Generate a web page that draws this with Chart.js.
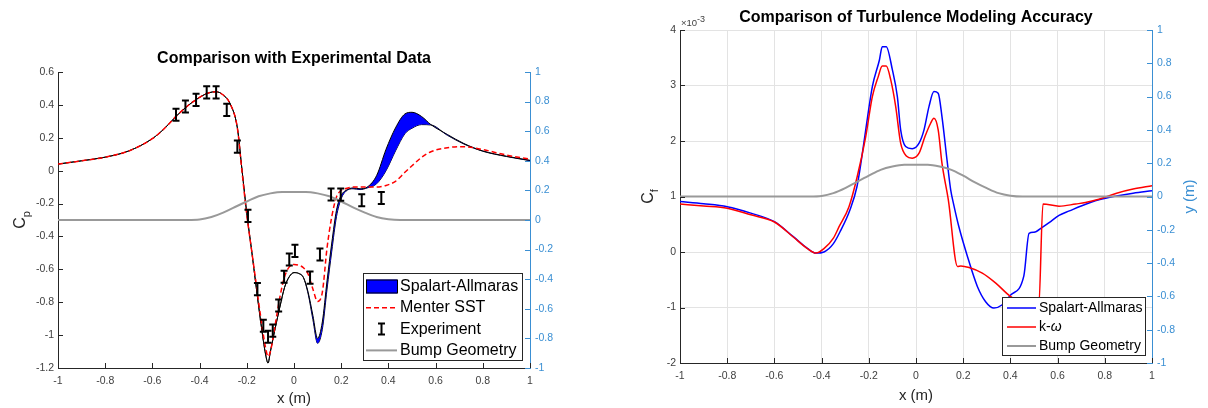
<!DOCTYPE html>
<html>
<head>
<meta charset="utf-8">
<script src="https://cdn.jsdelivr.net/npm/chart.js@4.4.1/dist/chart.umd.min.js"></script>
<style>
  html, body { margin: 0; padding: 0; background: #fff; }
  #cpChart { position: absolute; left: 0; top: 0; }
  #cfChart { position: absolute; left: 600px; top: 0; }
</style>
</head>
<body>
<canvas id="cpChart" width="590" height="408"></canvas>
<canvas id="cfChart" width="608" height="408"></canvas>
<script>
// ---- pressure coefficient (left plot) ----
const cpX = [-1, -0.9, -0.8, -0.7, -0.6, -0.55, -0.5, -0.45, -0.4, -0.36, -0.33, -0.3, -0.27, -0.24,
  -0.22, -0.2, -0.18, -0.16, -0.14, -0.12, -0.11, -0.1, -0.08, -0.06, -0.04, -0.02, 0, 0.02, 0.04,
  0.06, 0.08, 0.1, 0.12, 0.14, 0.16, 0.18, 0.2, 0.22, 0.25, 0.28, 0.31, 0.35, 0.39, 0.43, 0.47,
  0.5, 0.54, 0.58, 0.65, 0.72, 0.8, 0.9, 1];
const cpSAUpper = [0.04, 0.06, 0.082, 0.12, 0.195, 0.255, 0.33, 0.395, 0.446, 0.474, 0.48, 0.46, 0.405, 0.26,
  0.0, -0.26, -0.48, -0.71, -0.93, -1.12, -1.17, -1.10, -0.96, -0.83, -0.71, -0.645, -0.62, -0.625, -0.65,
  -0.74, -0.88, -1.02, -0.92, -0.67, -0.44, -0.24, -0.15, -0.12, -0.105, -0.11, -0.10, -0.03, 0.13, 0.26, 0.345,
  0.355, 0.33, 0.28, 0.22, 0.165, 0.12, 0.088, 0.063];
const cpSALower = [0.04, 0.06, 0.082, 0.12, 0.195, 0.255, 0.33, 0.395, 0.446, 0.474, 0.48, 0.46, 0.405, 0.26,
  0.0, -0.26, -0.48, -0.71, -0.93, -1.12, -1.17, -1.10, -0.96, -0.83, -0.71, -0.645, -0.62, -0.625, -0.65,
  -0.75, -0.905, -1.05, -0.965, -0.72, -0.49, -0.28, -0.17, -0.125, -0.11, -0.115, -0.105, -0.08, 0.0, 0.12, 0.225,
  0.258, 0.28, 0.278, 0.215, 0.162, 0.118, 0.086, 0.061];
const cpSST = [0.04, 0.06, 0.082, 0.12, 0.195, 0.255, 0.33, 0.395, 0.446, 0.474, 0.48, 0.46, 0.405, 0.26,
  -0.01, -0.27, -0.48, -0.69, -0.90, -1.08, -1.13, -1.10, -0.94, -0.77, -0.645, -0.585, -0.57, -0.575, -0.59,
  -0.63, -0.72, -0.795, -0.74, -0.47, -0.28, -0.16, -0.12, -0.108, -0.10, -0.10, -0.10, -0.10, -0.09, -0.065, -0.01,
  0.03, 0.08, 0.115, 0.14, 0.146, 0.128, 0.095, 0.07];

const expX = [-0.50, -0.46, -0.415, -0.37, -0.33, -0.285, -0.24, -0.195, -0.155, -0.13, -0.11,
  -0.09, -0.065, -0.042, -0.02, 0.004, 0.068, 0.11, 0.157, 0.198, 0.287, 0.37];
const expCp = [0.34, 0.39, 0.43, 0.476, 0.476, 0.37, 0.146, -0.275, -0.72, -0.943, -1.01,
  -0.973, -0.82, -0.645, -0.54, -0.488, -0.65, -0.51, -0.145, -0.146, -0.18, -0.166];
const expErr = [0.037, 0.037, 0.037, 0.037, 0.037, 0.037, 0.037, 0.037, 0.037, 0.037, 0.037,
  0.037, 0.037, 0.037, 0.037, 0.037, 0.037, 0.037, 0.037, 0.037, 0.037, 0.037];

// bump shape, y (m) on the right axis of both plots
const bumpX = [-1, -0.45, -0.4, -0.35, -0.3, -0.25, -0.2, -0.15, -0.1, -0.05, 0, 0.05, 0.1,
  0.15, 0.2, 0.25, 0.3, 0.35, 0.4, 0.45, 1];
const bumpY = [0, 0, 0.003, 0.02, 0.05, 0.088, 0.125, 0.16, 0.18, 0.19, 0.19, 0.19, 0.18,
  0.16, 0.125, 0.085, 0.05, 0.02, 0.005, 0, 0];

// ---- skin friction, in units of 1e-3 (right plot) ----
const cfSAX = [-1, -0.9, -0.8, -0.7, -0.6, -0.52, -0.46, -0.424, -0.39, -0.35, -0.32, -0.28, -0.25,
  -0.23, -0.213, -0.185, -0.155, -0.143, -0.126, -0.10, -0.079, -0.065, -0.044, -0.016, 0.013, 0.034,
  0.055, 0.076, 0.094, 0.11, 0.133, 0.147, 0.16, 0.182, 0.218, 0.26, 0.295, 0.33, 0.364, 0.40, 0.457,
  0.479, 0.50, 0.535, 0.564, 0.606, 0.65, 0.70, 0.775, 0.85, 0.92, 1.0];
const cfSA = [0.91, 0.87, 0.816, 0.70, 0.546, 0.276, 0.066, -0.02, 0.0, 0.15, 0.38, 0.757, 1.18,
  1.70, 2.20, 2.98, 3.46, 3.70, 3.70, 3.28, 2.80, 2.20, 1.90, 1.86, 1.96, 2.20,
  2.62, 2.89, 2.86, 2.44, 1.60, 1.12, 0.85, 0.45, -0.08, -0.62, -0.895, -1.01, -0.955, -0.78, -0.43,
  0.336, 0.355, 0.445, 0.53, 0.66, 0.74, 0.83, 0.94, 1.01, 1.06, 1.105];
const cfKwX = [-1, -0.9, -0.8, -0.7, -0.6, -0.52, -0.46, -0.424, -0.39, -0.35, -0.326, -0.284, -0.249,
  -0.213, -0.185, -0.160, -0.143, -0.126, -0.107, -0.086, -0.065, -0.041, -0.016, 0.013, 0.038, 0.062,
  0.076, 0.094, 0.11, 0.137, 0.176, 0.19, 0.225, 0.281, 0.338, 0.40, 0.46, 0.52, 0.538, 0.606, 0.677,
  0.718, 0.775, 0.85, 0.92, 1.0];
const cfKw = [0.865, 0.83, 0.79, 0.67, 0.54, 0.27, 0.06, -0.02, 0.06, 0.25, 0.456, 0.816, 1.36,
  2.08, 2.80, 3.16, 3.35, 3.35, 3.10, 2.62, 1.96, 1.73, 1.69, 1.78, 2.08, 2.32,
  2.41, 2.20, 1.60, 0.94, -0.26, -0.25, -0.28, -0.38, -0.56, -0.80, -0.92, -1.0, 0.865, 0.825, 0.865,
  0.89, 0.95, 1.06, 1.135, 1.195];

const FONT = '"Liberation Sans", Arial, Helvetica, sans-serif';
const AXIS_GRAY = '#262626';
const TICK_GRAY = '#404040';
const RIGHT_BLUE = '#3a8fd3';

Chart.defaults.font.family = FONT;
Chart.defaults.animation = false;

const pts = (xs, ys) => xs.map((x, i) => ({ x, y: ys[i] }));
// MATLAB prints 1 and 0 rather than 1.0 and 0.0
const plainTick = v => String(Number(v.toFixed(3)));

// MATLAB style tick marks pointing into the plot box
const insideTicks = {
  id: 'insideTicks',
  afterDatasetsDraw(chart) {
    const { ctx, chartArea: a } = chart;
    ctx.save();
    ctx.lineWidth = 1;
    Object.values(chart.scales).forEach(s => {
      ctx.strokeStyle = s.options.border.color;
      s.ticks.forEach(t => {
        const p = Math.round(s.getPixelForValue(t.value)) + 0.5;
        ctx.beginPath();
        if (s.axis === 'x') { ctx.moveTo(p, a.bottom); ctx.lineTo(p, a.bottom - 5); }
        else if (s.position === 'left') { ctx.moveTo(a.left, p); ctx.lineTo(a.left + 5, p); }
        else { ctx.moveTo(a.right, p); ctx.lineTo(a.right - 5, p); }
        ctx.stroke();
      });
    });
    ctx.restore();
  }
};

// rotated axis label with optional subscript, x is the baseline
function drawYLabel(ctx, x, yc, main, sub, size, color) {
  ctx.save();
  ctx.translate(x, yc);
  ctx.rotate(-Math.PI / 2);
  ctx.fillStyle = color;
  ctx.textAlign = 'left';
  ctx.textBaseline = 'alphabetic';
  const subSize = Math.round(size * 0.7);
  ctx.font = size + 'px ' + FONT;
  const w1 = ctx.measureText(main).width;
  ctx.font = subSize + 'px ' + FONT;
  const w2 = sub ? ctx.measureText(sub).width : 0;
  const start = -(w1 + w2) / 2;
  ctx.font = size + 'px ' + FONT;
  ctx.fillText(main, start, 0);
  if (sub) {
    ctx.font = subSize + 'px ' + FONT;
    ctx.fillText(sub, start + w1, 5);
  }
  ctx.restore();
}

function drawErrorBar(ctx, px, top, bot, half) {
  ctx.beginPath();
  ctx.moveTo(px, top); ctx.lineTo(px, bot);
  ctx.moveTo(px - half, top); ctx.lineTo(px + half, top);
  ctx.moveTo(px - half, bot); ctx.lineTo(px + half, bot);
  ctx.stroke();
}

function drawLegend(chart, cfg) {
  const { ctx, chartArea: a } = chart;
  const x0 = Math.round(a.right - cfg.insetX - cfg.width);
  const y0 = Math.round(a.bottom - cfg.insetY - cfg.height);
  ctx.save();
  ctx.fillStyle = '#fff';
  ctx.fillRect(x0, y0, cfg.width, cfg.height);
  ctx.strokeStyle = AXIS_GRAY;
  ctx.lineWidth = 1;
  ctx.strokeRect(x0 + 0.5, y0 + 0.5, cfg.width, cfg.height);
  cfg.rows.forEach((r, i) => {
    const cy = y0 + cfg.firstRow + i * cfg.rowGap;
    const sx = x0 + cfg.sampleLeft, ex = x0 + cfg.sampleRight;
    ctx.setLineDash([]);
    if (r.kind === 'band') {
      ctx.fillStyle = r.color;
      ctx.fillRect(sx, cy - 7, ex - sx, 14);
      ctx.strokeStyle = '#000';
      ctx.strokeRect(sx + 0.5, cy - 6.5, ex - sx, 13);
    } else if (r.kind === 'errorbar') {
      ctx.strokeStyle = '#000';
      ctx.lineWidth = 2;
      drawErrorBar(ctx, (sx + ex) / 2, cy - 5.5, cy + 5.5, 3.5);
      ctx.lineWidth = 1;
    } else {
      ctx.strokeStyle = r.color;
      ctx.lineWidth = r.width;
      if (r.dash) ctx.setLineDash(r.dash);
      ctx.beginPath();
      ctx.moveTo(sx, cy); ctx.lineTo(ex, cy);
      ctx.stroke();
      ctx.setLineDash([]);
      ctx.lineWidth = 1;
    }
    ctx.fillStyle = '#000';
    ctx.textBaseline = 'middle';
    ctx.textAlign = 'left';
    ctx.font = cfg.fontSize + 'px ' + FONT;
    ctx.fillText(r.text, x0 + cfg.textLeft, cy);
    if (r.italic) {
      const w = ctx.measureText(r.text).width;
      ctx.font = 'italic ' + cfg.fontSize + 'px ' + FONT;
      ctx.fillText(r.italic, x0 + cfg.textLeft + w, cy);
    }
  });
  ctx.restore();
}

const cpExtras = {
  id: 'cpExtras',
  afterDatasetsDraw(chart) {
    const { ctx } = chart;
    const xs = chart.scales.x, ys = chart.scales.y;
    ctx.save();
    ctx.strokeStyle = '#000';
    ctx.lineWidth = 2;
    expX.forEach((xv, i) => {
      drawErrorBar(ctx, xs.getPixelForValue(xv),
        ys.getPixelForValue(expCp[i] + expErr[i]),
        ys.getPixelForValue(expCp[i] - expErr[i]), 3.5);
    });
    ctx.restore();
  },
  afterDraw(chart) {
    const a = chart.chartArea;
    drawYLabel(chart.ctx, 25, (a.top + a.bottom) / 2, 'C', 'p', 16, AXIS_GRAY);
    drawLegend(chart, {
      width: 159, height: 87, insetX: 8, insetY: 8, firstRow: 13.5, rowGap: 21.3,
      sampleLeft: 3, sampleRight: 34, textLeft: 37, fontSize: 16,
      rows: [
        { kind: 'band', color: '#0000ff', text: 'Spalart-Allmaras' },
        { kind: 'line', color: '#ff0000', width: 1.5, dash: [5, 3], text: 'Menter SST' },
        { kind: 'errorbar', text: 'Experiment' },
        { kind: 'line', color: '#999999', width: 2, text: 'Bump Geometry' }
      ]
    });
  }
};

const cfExtras = {
  id: 'cfExtras',
  afterDraw(chart) {
    const { ctx, chartArea: a } = chart;
    const yc = (a.top + a.bottom) / 2;
    drawYLabel(ctx, 53, yc, 'C', 'f', 16, AXIS_GRAY);
    drawYLabel(ctx, 594, yc, 'y (m)', '', 15, RIGHT_BLUE);
    // exponent above the left axis
    ctx.save();
    ctx.fillStyle = TICK_GRAY;
    ctx.textBaseline = 'alphabetic';
    ctx.font = '9.5px ' + FONT;
    ctx.fillText('\u00d710', a.left + 1, a.top - 4);
    const w = ctx.measureText('\u00d710').width;
    ctx.font = '9px ' + FONT;
    ctx.fillText('-3', a.left + 1 + w, a.top - 8);
    ctx.restore();
    drawLegend(chart, {
      width: 143, height: 58, insetX: 7, insetY: 8, firstRow: 11, rowGap: 19,
      sampleLeft: 5, sampleRight: 34, textLeft: 37, fontSize: 14,
      rows: [
        { kind: 'line', color: '#0000ff', width: 1.5, text: 'Spalart-Allmaras' },
        { kind: 'line', color: '#ff0000', width: 1.5, text: 'k-', italic: '\u03c9' },
        { kind: 'line', color: '#999999', width: 2, text: 'Bump Geometry' }
      ]
    });
  }
};

const tickFont = { size: 10.5 };

new Chart(document.getElementById('cpChart'), {
  type: 'line',
  data: {
    datasets: [
      { label: 'Spalart-Allmaras', data: pts(cpX, cpSAUpper), borderColor: '#000', borderWidth: 1,
        backgroundColor: '#0000ff', fill: '+1', order: 3, yAxisID: 'y', cubicInterpolationMode: 'monotone' },
      { label: 'SA lower', data: pts(cpX, cpSALower), borderColor: '#000', borderWidth: 1,
        fill: false, order: 3, yAxisID: 'y', cubicInterpolationMode: 'monotone' },
      { label: 'Menter SST', data: pts(cpX, cpSST), borderColor: '#ff0000', borderWidth: 1.5,
        borderDash: [5, 3], fill: false, order: 2, yAxisID: 'y', cubicInterpolationMode: 'monotone' },
      { label: 'Experiment', data: pts(expX, expCp), showLine: false, pointRadius: 0, order: 0, yAxisID: 'y' },
      { label: 'Bump Geometry', data: pts(bumpX, bumpY), borderColor: '#999999', borderWidth: 2,
        fill: false, order: 1, yAxisID: 'y1', cubicInterpolationMode: 'monotone' }
    ]
  },
  options: {
    responsive: false,
    devicePixelRatio: 1,
    layout: { padding: 0 },
    elements: { point: { radius: 0 } },
    plugins: {
      legend: { display: false },
      tooltip: { enabled: false },
      title: {
        display: true, fullSize: false, text: 'Comparison with Experimental Data', color: '#000',
        font: { size: 16, weight: 'bold' }, padding: { top: 49.4, bottom: 3.4 }
      }
    },
    scales: {
      x: {
        type: 'linear', min: -1, max: 1,
        ticks: { stepSize: 0.2, color: TICK_GRAY, font: tickFont, padding: 7, maxRotation: 0, autoSkip: false, callback: plainTick },
        grid: { display: false, drawTicks: false },
        border: { color: AXIS_GRAY },
        title: { display: true, text: 'x (m)', color: AXIS_GRAY, font: { size: 15 }, padding: { top: 0, bottom: 0 } },
        afterFit(s) { s.height = 40; }
      },
      y: {
        position: 'left', min: -1.2, max: 0.6,
        ticks: { stepSize: 0.2, color: TICK_GRAY, font: tickFont, padding: 4, callback: plainTick },
        grid: { display: false, drawTicks: false },
        border: { color: AXIS_GRAY },
        afterFit(s) { s.width = 58; }
      },
      y1: {
        position: 'right', min: -1, max: 1,
        ticks: { stepSize: 0.2, color: RIGHT_BLUE, font: tickFont, padding: 5, callback: plainTick },
        grid: { display: false, drawTicks: false },
        border: { color: RIGHT_BLUE },
        afterFit(s) { s.width = 60; }
      }
    }
  },
  plugins: [insideTicks, cpExtras]
});

new Chart(document.getElementById('cfChart'), {
  type: 'line',
  data: {
    datasets: [
      { label: 'Spalart-Allmaras', data: pts(cfSAX, cfSA), borderColor: '#0000ff', borderWidth: 1.5,
        fill: false, order: 2, yAxisID: 'y', cubicInterpolationMode: 'monotone' },
      { label: 'k-\u03c9', data: pts(cfKwX, cfKw), borderColor: '#ff0000', borderWidth: 1.5,
        fill: false, order: 1, yAxisID: 'y', cubicInterpolationMode: 'monotone' },
      { label: 'Bump Geometry', data: pts(bumpX, bumpY), borderColor: '#999999', borderWidth: 2,
        fill: false, order: 0, yAxisID: 'y1', cubicInterpolationMode: 'monotone' }
    ]
  },
  options: {
    responsive: false,
    devicePixelRatio: 1,
    layout: { padding: 0 },
    elements: { point: { radius: 0 } },
    plugins: {
      legend: { display: false },
      tooltip: { enabled: false },
      title: {
        display: true, fullSize: false, text: 'Comparison of Turbulence Modeling Accuracy', color: '#000',
        font: { size: 16, weight: 'bold' }, padding: { top: 8.2, bottom: 2.6 }
      }
    },
    scales: {
      x: {
        type: 'linear', min: -1, max: 1,
        ticks: { stepSize: 0.2, color: TICK_GRAY, font: tickFont, padding: 7, maxRotation: 0, autoSkip: false, callback: plainTick },
        grid: { display: true, color: '#e3e3e3', drawTicks: false },
        border: { color: AXIS_GRAY },
        title: { display: true, text: 'x (m)', color: AXIS_GRAY, font: { size: 15 }, padding: { top: 0, bottom: 3.5 } },
        afterFit(s) { s.height = 45; }
      },
      y: {
        position: 'left', min: -2, max: 4,
        ticks: { stepSize: 1, color: TICK_GRAY, font: tickFont, padding: 4, callback: plainTick },
        grid: { display: true, color: '#e3e3e3', drawTicks: false },
        border: { color: AXIS_GRAY },
        afterFit(s) { s.width = 80; }
      },
      y1: {
        position: 'right', min: -1, max: 1,
        ticks: { stepSize: 0.2, color: RIGHT_BLUE, font: tickFont, padding: 5, callback: plainTick },
        grid: { display: false, drawTicks: false },
        border: { color: RIGHT_BLUE },
        afterFit(s) { s.width = 56; }
      }
    }
  },
  plugins: [insideTicks, cfExtras]
});
</script>
</body>
</html>
